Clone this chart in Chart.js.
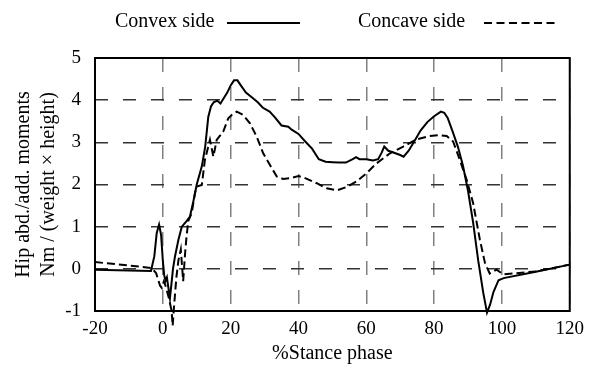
<!DOCTYPE html>
<html>
<head>
<meta charset="utf-8">
<script src="https://cdn.jsdelivr.net/npm/chart.js@4/dist/chart.umd.min.js"></script>
<style>
  body { margin: 0; background: #fff; }
  #wrap { width: 591px; height: 370px; position: relative; }
</style>
</head>
<body>
<div id="wrap"><canvas id="momentChart"></canvas></div>
<script>
// convex side (solid)
const convexX = [-20, -10, -3.5, -2.5, -1.8, -1.1, -0.5, 0, 0.4, 0.8, 1.2, 2.1, 3, 3.6, 4.6, 5.6, 7, 8, 9, 10, 11.5, 12.5, 13.4, 14.2, 15, 16, 17, 18, 19, 20, 21, 22, 23, 24.5, 26.5, 28, 29.5, 31.5, 33, 35, 37, 38, 40, 42, 44, 46, 48, 50, 52, 54, 56, 57, 58, 60, 62, 63.5, 64.5, 65.3, 66.5, 68, 70, 71, 72.5, 74, 76, 78, 80, 82, 83, 84, 85.5, 87, 88.5, 90, 91.5, 93, 94.5, 95.6, 96.5, 97.5, 99, 100.5, 110, 120];
const convexY = [-0.02, -0.04, -0.05, 0.3, 0.85, 1.05, 0.8, 0.2, -0.15, -0.28, -0.2, -0.7, 0, 0.3, 0.69, 1.0, 1.13, 1.24, 1.6, 2.0, 2.43, 2.9, 3.6, 3.85, 3.95, 3.99, 3.92, 4.05, 4.18, 4.35, 4.47, 4.47, 4.35, 4.18, 4.05, 3.95, 3.82, 3.73, 3.6, 3.4, 3.37, 3.3, 3.2, 3.02, 2.85, 2.6, 2.54, 2.53, 2.52, 2.52, 2.6, 2.65, 2.6, 2.6, 2.57, 2.6, 2.75, 2.9, 2.8, 2.76, 2.7, 2.66, 2.8, 3.0, 3.28, 3.48, 3.62, 3.73, 3.7, 3.58, 3.25, 2.9, 2.45, 1.85, 1.1, 0.2, -0.57, -1.04, -0.85, -0.55, -0.27, -0.22, -0.07, 0.1];

// concave side (dashed)
const concaveX = [-20, -10, -3.3, -2, -0.8, -0.3, 0.3, 0.8, 1.8, 2.6, 2.9, 3.3, 4, 4.6, 5.3, 6, 6.6, 7, 7.5, 8.5, 9.5, 10, 11.5, 12.4, 13.9, 14.9, 15.9, 17.8, 19.3, 20.3, 21.8, 23.7, 25.7, 27.7, 29.6, 31.6, 33.6, 35.5, 37.5, 40, 41.4, 45.4, 48.3, 51.3, 54.2, 57.1, 60.1, 63, 67, 70.9, 74.8, 78.7, 81.7, 83.7, 85.6, 87.6, 89.6, 91.5, 93.5, 95, 96.4, 98.4, 100.4, 110.2, 120];
const concaveY = [0.16, 0.08, 0.02, -0.1, -0.4, -0.45, -0.3, -0.4, -0.7, -1.0, -1.35, -0.9, -0.2, 0.2, 0.46, -0.29, 0.4, 0.77, 1.13, 1.32, 1.8, 1.95, 1.99, 2.58, 3.06, 2.66, 3.06, 3.25, 3.57, 3.65, 3.73, 3.65, 3.45, 3.13, 2.74, 2.46, 2.19, 2.13, 2.15, 2.2, 2.17, 2.03, 1.91, 1.86, 1.94, 2.07, 2.27, 2.5, 2.74, 2.9, 3.07, 3.15, 3.17, 3.15, 3.02, 2.58, 2.11, 1.56, 0.69, 0.14, -0.11, -0.02, -0.13, -0.06, 0.1];

const xTicks = [-20, 0, 20, 40, 60, 80, 100, 120];
const yTicks = [-1, 0, 1, 2, 3, 4, 5];
const seriesNames = ['Convex side', 'Concave side'];

const FONT = 'Liberation Serif';

function toPoints(xs, ys) {
    return xs.map((x, i) => ({ x: x, y: ys[i] }));
}

// frame + legend drawn by hand (legend text sits left of the line sample)
const framePlugin = {
    id: 'frame',
    afterDraw(chart) {
        const { ctx, chartArea: a } = chart;
        ctx.save();
        ctx.strokeStyle = '#000';
        ctx.lineWidth = 2;
        ctx.strokeRect(a.left, a.top, a.right - a.left, a.bottom - a.top);

        ctx.font = '20px "' + FONT + '"';
        ctx.fillStyle = '#000';
        ctx.textBaseline = 'middle';
        ctx.fillText(seriesNames[0], 115, 22);
        ctx.fillText(seriesNames[1], 358, 22);

        ctx.beginPath();
        ctx.moveTo(227, 23);
        ctx.lineTo(300, 23);
        ctx.stroke();

        ctx.setLineDash([8, 4.5]);
        ctx.beginPath();
        ctx.moveTo(484, 23);
        ctx.lineTo(555, 23);
        ctx.stroke();
        ctx.restore();
    }
};

new Chart(document.getElementById('momentChart'), {
    type: 'scatter',
    data: {
        datasets: [{
            label: seriesNames[0],
            data: toPoints(convexX, convexY),
            showLine: true,
            borderColor: '#000',
            borderWidth: 2,
            pointRadius: 0,
            clip: false
        }, {
            label: seriesNames[1],
            data: toPoints(concaveX, concaveY),
            showLine: true,
            borderColor: '#000',
            borderWidth: 2,
            borderDash: [8, 4],
            pointRadius: 0,
            clip: false
        }]
    },
    options: {
        responsive: true,
        maintainAspectRatio: false,
        animation: false,
        layout: { padding: { top: 58, right: 21, left: 0, bottom: 0 } },
        plugins: {
            legend: { display: false },
            tooltip: { enabled: false }
        },
        scales: {
            x: {
                type: 'linear',
                min: -20,
                max: 120,
                afterBuildTicks: (s) => { s.ticks = xTicks.map(v => ({ value: v })); },
                afterFit: (s) => { s.height = 59; },
                ticks: { color: '#000', font: { family: FONT, size: 19 }, padding: 7 },
                grid: { color: '#808080', lineWidth: 1.5, drawTicks: false },
                border: { display: false, dash: [14, 15] },
                title: {
                    display: true,
                    text: '%Stance phase',
                    color: '#000',
                    font: { family: FONT, size: 20 },
                    padding: { top: 2 }
                }
            },
            y: {
                min: -1,
                max: 5,
                afterBuildTicks: (s) => { s.ticks = yTicks.map(v => ({ value: v })); },
                afterFit: (s) => { s.width = 95; },
                ticks: { color: '#000', font: { family: FONT, size: 19 }, padding: 14 },
                grid: { color: '#333', lineWidth: 1.5, drawTicks: false },
                border: { display: false, dash: [13, 15] },
                title: {
                    display: true,
                    text: ['Hip abd./add. moments', 'Nm / (weight \u00d7 height)'],
                    color: '#000',
                    font: { family: FONT, size: 20, lineHeight: 1.25 },
                    padding: { top: 11, bottom: 0 }
                }
            }
        }
    },
    plugins: [framePlugin]
});
</script>
</body>
</html>
